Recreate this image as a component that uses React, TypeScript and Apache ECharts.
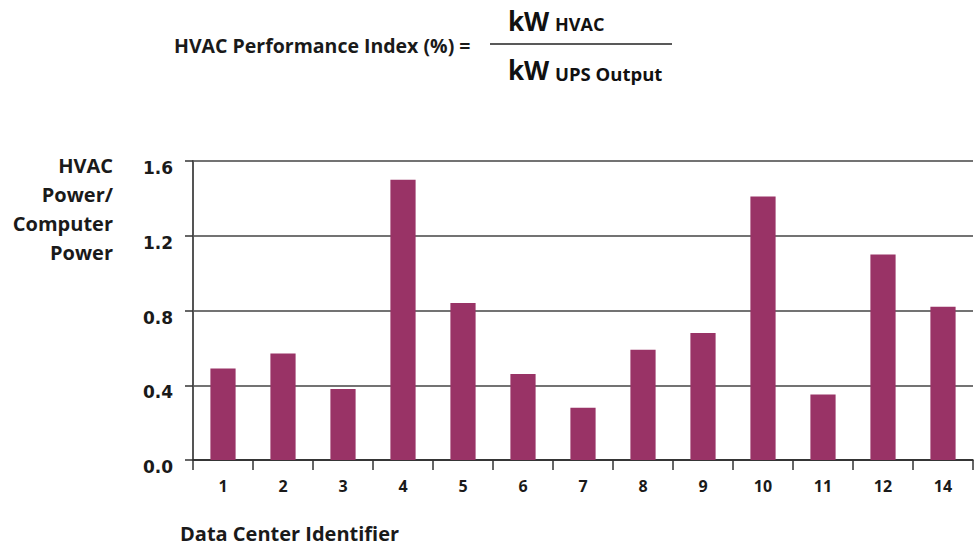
import React, { useEffect, useRef } from "react";
import * as echarts from "echarts";

const categories = ["1", "2", "3", "4", "5", "6", "7", "8", "9", "10", "11", "12", "14"];
const values = [0.49, 0.57, 0.38, 1.5, 0.84, 0.46, 0.28, 0.59, 0.68, 1.41, 0.35, 1.1, 0.82];
const yTicks = [0, 0.4, 0.8, 1.2, 1.6];

const FONT = "Open Sans";
const NUMFONT = "DejaVu Sans";
const BAR = "#993366";
const INK = "#1a1a1a";

export default function App() {
  const ref = useRef<HTMLDivElement>(null);
  useEffect(() => {
    if (!ref.current) return;
    const chart = echarts.init(ref.current, undefined, { renderer: "svg" });
    chart.setOption({
      animation: false,
      backgroundColor: "#ffffff",
      grid: { left: 193, right: 1, top: 161, bottom: 88, containLabel: false },
      xAxis: {
        type: "category",
        data: categories,
        axisLine: { show: true, lineStyle: { color: "#222", width: 1.5 } },
        axisTick: { show: true, length: 10, lineStyle: { color: "#333", width: 1.5 } },
        axisLabel: {
          color: INK,
          fontFamily: FONT,
          fontWeight: "bold",
          fontSize: 16,
          margin: 18,
        },
      },
      yAxis: {
        type: "value",
        min: yTicks[0],
        max: yTicks[yTicks.length - 1],
        interval: 0.4,
        axisLine: { show: true, lineStyle: { color: "#555", width: 2 } },
        axisTick: { show: true, length: 8, lineStyle: { color: "#333", width: 1.5 } },
        axisLabel: {
          color: INK,
          fontFamily: NUMFONT,
          fontWeight: "bold",
          fontSize: 17,
          margin: 20,
          verticalAlign: "top",
          lineHeight: 14,
          formatter: (v: number) => v.toFixed(1),
        },
        splitLine: { show: true, lineStyle: { color: "#444", width: 1.5 } },
      },
      series: [
        {
          type: "bar",
          data: values,
          barWidth: "42%",
          itemStyle: { color: BAR },
        },
      ],
      graphic: [
        {
          type: "text",
          x: 174,
          y: 45,
          style: {
            text: "HVAC Performance Index (%) =",
            fontFamily: FONT,
            fontWeight: "bold",
            fontSize: 19.5,
            verticalAlign: "middle",
            fill: INK,
          },
        },
        {
          type: "line",
          shape: { x1: 490, y1: 44, x2: 672, y2: 44 },
          style: { stroke: "#222", lineWidth: 1.5 },
        },
        {
          type: "text",
          x: 508,
          y: 21,
          style: { text: "kW", fontFamily: FONT, fontWeight: "bold", fontSize: 26, verticalAlign: "middle", fill: "#111" },
        },
        {
          type: "text",
          x: 555,
          y: 24,
          style: { text: "HVAC", fontFamily: FONT, fontWeight: "bold", fontSize: 18, verticalAlign: "middle", fill: "#111" },
        },
        {
          type: "text",
          x: 508,
          y: 70,
          style: { text: "kW", fontFamily: FONT, fontWeight: "bold", fontSize: 26, verticalAlign: "middle", fill: "#111" },
        },
        {
          type: "text",
          x: 555,
          y: 73,
          style: { text: "UPS Output", fontFamily: FONT, fontWeight: "bold", fontSize: 18.5, verticalAlign: "middle", fill: "#111" },
        },
        {
          type: "text",
          x: 113,
          y: 151,
          style: {
            text: "HVAC\nPower/\nComputer\nPower",
            align: "right",
            verticalAlign: "top",
            fontFamily: FONT,
            fontWeight: "bold",
            fontSize: 20,
            lineHeight: 29,
            fill: INK,
          },
        },
        {
          type: "text",
          x: 180,
          y: 533,
          style: {
            text: "Data Center Identifier",
            verticalAlign: "middle",
            fontFamily: FONT,
            fontWeight: "bold",
            fontSize: 20,
            fill: INK,
          },
        },
      ],
    });
    return () => chart.dispose();
  }, []);
  return (
    <div
      ref={ref}
      style={{ position: "fixed", left: 0, top: 0, width: 974, height: 548 }}
    />
  );
}
